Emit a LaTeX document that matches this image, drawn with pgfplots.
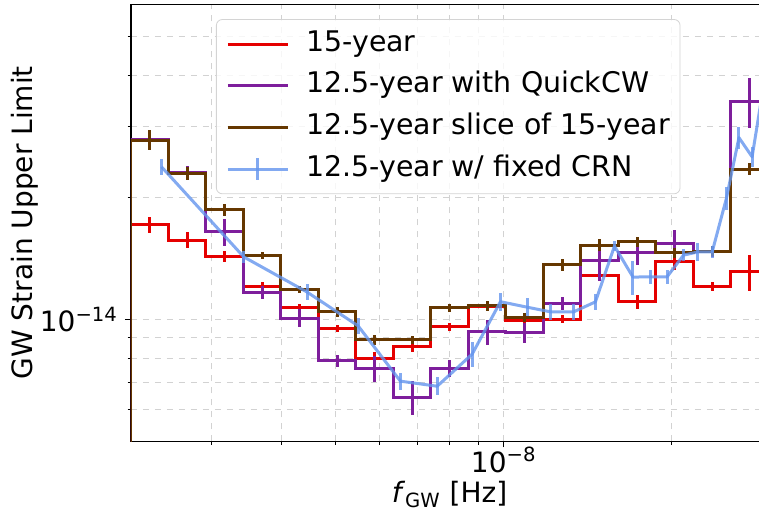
\documentclass[border=0pt]{standalone}
\usepackage{fontspec}
\setmainfont{DejaVu Sans}
\usepackage{pgfplots}
\usepackage{pgfplotstable}
\pgfplotsset{compat=1.18}

\definecolor{cwred}{HTML}{E50000}
\definecolor{cwpurple}{HTML}{7E1E9C}
\definecolor{cwbrown}{HTML}{653700}
\definecolor{cwblue}{HTML}{6495ED}

% step series: x = bin centre (first rows and last row are bin edges), e = relative error
\pgfplotstableread{
x y e
2.1532e-9 1e-16 0
2.1532e-9 1.716e-14 0
2.3260e-9 1.716e-14 0.045
2.7144e-9 1.570e-14 0.045
3.1677e-9 1.433e-14 0.031
3.6967e-9 1.208e-14 0.023
4.3140e-9 1.071e-14 0.019
5.0344e-9 9.50e-15 0.019
5.8751e-9 8.02e-15 0.034
6.8562e-9 8.57e-15 0.031
8.0011e-9 9.59e-15 0.021
9.3372e-9 1.074e-14 0.018
1.0896e-8 9.92e-15 0.040
1.2716e-8 1.002e-14 0.021
1.4839e-8 1.286e-14 0.020
1.7317e-8 1.106e-14 0.040
2.0209e-8 1.388e-14 0.048
2.3584e-8 1.206e-14 0.023
2.7522e-8 1.312e-14 0.102
2.9731e-8 1.312e-14 0
}\redtab

\pgfplotstableread{
x y e
2.1532e-9 1e-16 0
2.1532e-9 2.780e-14 0
2.3260e-9 2.780e-14 0.057
2.7144e-9 2.307e-14 0.038
3.1677e-9 1.646e-14 0.076
3.6967e-9 1.166e-14 0.036
4.3140e-9 1.007e-14 0.051
5.0344e-9 7.90e-15 0.034
5.8751e-9 7.57e-15 0.074
6.8562e-9 6.42e-15 0.095
8.0011e-9 7.57e-15 0.047
9.3372e-9 9.32e-15 0.071
1.0896e-8 9.29e-15 0.057
1.2716e-8 1.094e-14 0.037
1.4839e-8 1.401e-14 0.114
1.7317e-8 1.463e-14 0.071
2.0209e-8 1.543e-14 0.077
2.3584e-8 1.470e-14 0.028
2.7522e-8 3.459e-14 0.142
2.9731e-8 3.459e-14 0
}\purpletab

\pgfplotstableread{
x y e
2.1532e-9 1e-16 0
2.1532e-9 2.772e-14 0
2.3260e-9 2.772e-14 0.057
2.7144e-9 2.294e-14 0.038
3.1677e-9 1.868e-14 0.034
3.6967e-9 1.441e-14 0.019
4.3140e-9 1.188e-14 0.020
5.0344e-9 1.044e-14 0.027
5.8751e-9 8.92e-15 0.028
6.8562e-9 8.92e-15 0.023
8.0011e-9 1.068e-14 0.023
9.3372e-9 1.080e-14 0.028
1.0896e-8 1.011e-14 0.023
1.2716e-8 1.367e-14 0.034
1.4839e-8 1.525e-14 0.034
1.7317e-8 1.554e-14 0.028
2.0209e-8 1.460e-14 0.028
2.3584e-8 1.474e-14 0.028
2.7522e-8 2.350e-14 0.034
2.9731e-8 2.350e-14 0
}\browntab

\pgfplotstableread{
x y e
2.442e-9 2.381e-14 0.047
3.426e-9 1.427e-14 0.034
4.449e-9 1.168e-14 0.045
5.489e-9 9.64e-15 0.043
6.534e-9 7.04e-15 0.047
7.603e-9 6.84e-15 0.051
8.781e-9 8.21e-15 0.071
9.865e-9 1.106e-14 0.051
1.101e-8 1.072e-14 0.051
1.212e-8 1.044e-14 0.043
1.334e-8 1.044e-14 0.043
1.459e-8 1.105e-14 0.043
1.578e-8 1.517e-14 0.028
1.703e-8 1.272e-14 0.097
1.830e-8 1.274e-14 0.038
1.960e-8 1.274e-14 0.038
2.097e-8 1.441e-14 0.034
2.226e-8 1.468e-14 0.051
2.360e-8 1.468e-14 0.034
2.503e-8 1.993e-14 0.067
2.635e-8 2.811e-14 0.063
2.782e-8 2.520e-14 0.057
2.939e-8 4.034e-14 0.057
}\bluetab

\begin{document}
\begin{tikzpicture}
\begin{axis}[
    scale only axis,
    width=318.65pt, height=218.55pt,
    xmode=log, ymode=log,
    xmin=2.1532e-9, xmax=2.9731e-8,
    ymin=5e-15, ymax=6e-14,
    xtick={1e-8}, xticklabels={10\textsuperscript{−8}},
    ytick={1e-14}, yticklabels={10\textsuperscript{−14}},
    minor xtick={3e-9,4e-9,5e-9,6e-9,7e-9,8e-9,9e-9,2e-8},
    minor ytick={6e-15,7e-15,8e-15,9e-15,2e-14,3e-14,4e-14,5e-14},
    grid=both,
    grid style={dashed, gray!35, line width=0.5pt},
    tick align=outside, tick pos=left,
    major tick length=3pt, minor tick length=1.7pt,
    tick style={black, line width=0.5pt},
    axis line style={line width=0.7pt},
    tick label style={font=\fontsize{14}{16}\selectfont},
    xticklabel style={yshift=3.5pt},
    label style={font=\fontsize{14}{16}\selectfont},
    xlabel={\textit{f}\textsubscript{GW} [Hz]},
    ylabel={GW Strain Upper Limit},
    xlabel style={at={(axis description cs:0.5,-0.1402)}, anchor=base},
    ylabel style={at={(axis description cs:-0.1663,0.5)}, anchor=center},
    legend image code/.code={\draw[#1] (0pt,0pt) -- (30pt,0pt);},
    legend cell align=left,
    legend style={at={(axis description cs:0.1334,0.966)}, anchor=north west,
      draw=black!17, rounded corners=3pt, fill=white, fill opacity=0.8,
      text opacity=1, inner xsep=5pt, inner ysep=5.3pt,
      column sep=8.5pt, row sep=6.85pt,
      font=\fontsize{14.2}{16}\selectfont,
      nodes={inner sep=0pt, text height=10.5pt, text depth=3.5pt}},
  ]
\addplot[cwred, line width=1.5pt, const plot mark mid, forget plot,
  error bars/.cd, y dir=both, y explicit relative, error mark=none,
  error bar style={line width=1.5pt}]
  table[x=x, y=y, y error=e] {\redtab};
\addplot[cwpurple, line width=1.5pt, const plot mark mid, forget plot,
  error bars/.cd, y dir=both, y explicit relative, error mark=none,
  error bar style={line width=1.5pt}]
  table[x=x, y=y, y error=e] {\purpletab};
\addplot[cwbrown, line width=1.5pt, const plot mark mid, forget plot,
  error bars/.cd, y dir=both, y explicit relative, error mark=none,
  error bar style={line width=1.5pt}]
  table[x=x, y=y, y error=e] {\browntab};
\addplot[cwblue, draw opacity=0.8, line width=1.5pt, line join=round, forget plot,
  error bars/.cd, y dir=both, y explicit relative, error mark=none,
  error bar style={line width=1.5pt, draw opacity=0.8}]
  table[x=x, y=y, y error=e] {\bluetab};

\addlegendimage{cwred, line width=1.5pt}
\addlegendentry{15-year}
\addlegendimage{cwpurple, line width=1.5pt}
\addlegendentry{12.5-year with QuickCW}
\addlegendimage{cwbrown, line width=1.5pt}
\addlegendentry{12.5-year slice of 15-year}
\addlegendimage{legend image code/.code={
    \draw[cwblue, draw opacity=0.8, line width=1.5pt] (0pt,0pt) -- (30pt,0pt);
    \draw[cwblue, draw opacity=0.8, line width=1.5pt] (15pt,-5.4pt) -- (15pt,5.4pt);}}
\addlegendentry{12.5-year w/ fixed CRN}
\end{axis}
\pgfresetboundingbox
\useasboundingbox ([xshift=-65.5pt,yshift=-34.4pt]current axis.south west)
  rectangle ([xshift=-4.65pt,yshift=2.08pt]current axis.north east);
\end{tikzpicture}
\end{document}
